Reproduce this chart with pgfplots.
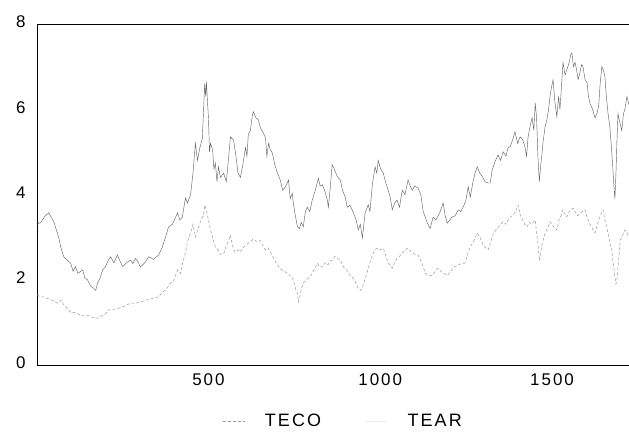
\documentclass[border=0pt]{standalone}
\usepackage{pgfplots}
\pgfplotsset{compat=1.18}
\usepackage{fontspec}
\setmainfont{Liberation Sans}[LetterSpace=12]
\pgfplotstableread{
x y
1 3.3
12 3.35
25 3.5
35 3.57
50 3.36
64 3.0
70 2.77
79 2.54
90 2.45
99 2.39
106 2.2
113 2.31
120 2.15
134 2.23
140 2.05
148 2.0
157 1.85
166 1.8
172 1.75
177 1.92
185 2.05
192 2.23
200 2.3
208 2.45
215 2.54
225 2.4
235 2.58
242 2.45
250 2.31
262 2.4
273 2.46
280 2.38
288 2.5
295 2.42
302 2.3
315 2.4
326 2.54
340 2.48
355 2.58
365 2.75
375 3.0
384 3.24
395 3.3
410 3.57
417 3.4
424 3.47
433 3.92
439 3.8
448 4.0
455 4.5
462 5.2
468 4.8
475 5.1
482 5.3
486 6.0
489 6.6
492 6.3
494 6.65
497 6.2
500 5.8
503 5.0
506 5.2
512 5.05
516 4.6
520 4.74
525 4.3
529 4.65
535 4.4
544 4.5
552 4.3
558 4.8
564 5.35
573 5.28
580 4.9
586 4.5
593 4.4
599 4.65
608 5.1
612 4.9
616 5.4
622 5.5
628 5.87
631 5.94
638 5.8
645 5.75
652 5.55
660 5.44
666 5.33
670 4.9
675 5.2
680 5.05
686 4.97
693 4.7
701 4.5
709 4.34
716 4.1
724 4.18
733 4.34
738 3.9
744 4.03
747 3.8
753 3.5
759 3.24
765 3.2
770 3.35
776 3.24
782 3.6
788 3.7
795 3.6
802 3.87
811 4.1
820 4.38
825 4.2
831 4.23
838 4.1
846 3.87
849 3.7
855 4.2
860 4.7
866 4.6
875 4.42
884 4.34
890 4.1
898 3.94
904 3.7
912 3.75
922 3.57
930 3.4
936 3.17
942 3.3
948 2.98
956 3.57
965 3.76
970 3.6
977 4.23
985 4.65
990 4.5
994 4.8
1001 4.6
1009 4.5
1015 4.3
1020 4.18
1029 3.94
1035 3.64
1042 3.8
1049 3.87
1056 3.7
1064 4.1
1072 4.0
1081 4.34
1087 4.2
1093 4.1
1100 4.2
1110 4.15
1118 4.0
1125 3.6
1131 3.47
1137 3.33
1145 3.2
1154 3.47
1162 3.4
1174 3.59
1183 3.8
1189 3.5
1195 3.33
1202 3.4
1209 3.47
1218 3.5
1227 3.64
1234 3.6
1241 3.7
1249 3.85
1256 4.18
1262 3.94
1270 4.3
1276 4.5
1282 4.65
1290 4.5
1297 4.42
1305 4.3
1314 4.27
1320 4.27
1326 4.58
1334 4.77
1343 4.93
1350 4.8
1358 5.0
1366 4.9
1372 5.1
1378 5.12
1386 5.3
1392 5.47
1400 5.2
1407 5.35
1414 5.3
1421 5.12
1426 4.9
1430 5.33
1436 5.6
1442 5.8
1447 5.5
1451 6.15
1455 5.8
1459 4.88
1463 4.3
1466 4.6
1470 4.9
1474 5.24
1480 5.6
1485 5.75
1490 6.0
1494 6.3
1498 6.5
1503 6.69
1508 6.2
1514 5.82
1519 6.3
1523 5.99
1528 6.6
1532 7.1
1538 6.8
1543 6.92
1550 7.1
1555 7.3
1558 7.32
1562 7.0
1567 7.1
1572 6.9
1576 6.7
1581 6.85
1586 7.05
1590 7.0
1596 6.7
1602 6.62
1606 6.3
1610 6.15
1618 6.0
1625 5.8
1631 5.9
1636 6.1
1640 6.6
1645 7.0
1650 6.9
1654 6.76
1658 6.3
1663 5.9
1668 5.6
1672 5.2
1676 4.74
1680 4.2
1683 3.9
1686 4.5
1689 5.28
1692 5.9
1697 5.7
1703 5.5
1708 5.9
1712 6.0
1718 6.3
1724 6.1
}\tear
\pgfplotstableread{
x y
1 1.65
10 1.6
20 1.6
35 1.55
50 1.5
60 1.45
70 1.52
80 1.4
93 1.29
100 1.22
108 1.24
120 1.2
135 1.15
148 1.17
160 1.12
170 1.1
180 1.1
190 1.15
200 1.2
209 1.29
220 1.3
238 1.33
255 1.38
273 1.45
290 1.45
310 1.5
330 1.55
355 1.6
365 1.7
375 1.76
390 1.92
400 2.0
410 2.23
419 2.15
425 2.4
432 2.6
439 2.9
448 3.1
455 3.3
462 3.0
470 3.2
478 3.4
485 3.5
490 3.75
495 3.6
500 3.4
506 3.17
512 3.0
520 2.77
528 2.7
535 2.6
544 2.6
552 2.8
558 2.9
564 3.05
570 2.8
577 2.65
585 2.7
593 2.65
600 2.75
608 2.8
615 2.85
622 2.9
630 2.95
640 2.9
650 2.93
658 2.8
666 2.7
673 2.75
680 2.65
690 2.5
701 2.35
710 2.25
720 2.2
730 2.15
737 2.1
744 2.07
750 1.9
755 1.75
759 1.69
762 1.48
766 1.6
771 1.8
776 1.92
785 2.0
796 2.07
805 2.2
817 2.39
823 2.3
831 2.3
840 2.4
848 2.35
855 2.45
860 2.46
868 2.55
875 2.5
884 2.46
893 2.3
905 2.2
913 2.1
922 2.04
930 1.9
936 1.8
942 1.75
948 1.8
955 2.0
962 2.18
970 2.4
978 2.6
985 2.7
991 2.74
1000 2.7
1009 2.74
1015 2.6
1022 2.4
1029 2.35
1035 2.27
1042 2.4
1049 2.5
1056 2.55
1064 2.62
1072 2.7
1081 2.74
1090 2.65
1100 2.6
1110 2.58
1118 2.45
1125 2.3
1131 2.15
1140 2.1
1151 2.1
1160 2.2
1168 2.27
1176 2.2
1185 2.15
1195 2.1
1205 2.2
1215 2.3
1227 2.35
1237 2.38
1247 2.39
1256 2.65
1264 2.8
1272 2.9
1282 3.1
1290 3.0
1298 2.85
1306 2.75
1314 2.7
1322 2.9
1330 3.1
1340 3.2
1350 3.3
1358 3.36
1366 3.3
1375 3.45
1387 3.52
1394 3.6
1401 3.76
1408 3.5
1415 3.4
1421 3.3
1427 3.24
1434 3.35
1440 3.3
1451 3.4
1455 3.1
1459 2.86
1463 2.45
1466 2.54
1470 2.8
1474 2.93
1480 3.1
1487 3.2
1494 3.36
1500 3.3
1508 3.2
1514 3.17
1520 3.4
1526 3.5
1532 3.64
1537 3.55
1543 3.47
1550 3.6
1556 3.65
1561 3.68
1567 3.6
1574 3.5
1580 3.55
1588 3.6
1596 3.64
1602 3.47
1610 3.3
1618 3.2
1625 3.1
1632 3.3
1640 3.5
1648 3.64
1654 3.4
1660 3.2
1665 3.0
1670 2.8
1674 2.7
1678 2.39
1683 2.07
1686 1.9
1689 2.0
1692 2.3
1695 2.54
1698 2.93
1704 3.0
1712 3.17
1718 3.1
1724 3.0
}\teco
\begin{document}
\begin{tikzpicture}
\useasboundingbox (-37bp,-72bp) rectangle (592bp,365bp);
\begin{axis}[
  at={(0,0)}, anchor=south west,
  scale only axis, width=592bp, height=341bp,
  xmin=1, xmax=1724, ymin=0, ymax=8,
  xtick={500,1000,1500}, ytick={0,2,4,6,8},
  major tick length=0pt,
  axis line style={black, line width=1pt},
  /pgf/number format/assume math mode=true,
  /pgf/number format/1000 sep={},
  tick label style={font=\fontsize{17}{20}\selectfont},
  yticklabel style={xshift=-8bp, yshift=2bp},
  xticklabel style={yshift=-5bp},
  legend style={at={(0.517,-0.165)}, anchor=center, draw=none, fill=none,
    font=\fontsize{18}{21}\selectfont, legend columns=2,
    /tikz/every odd column/.append style={column sep=18bp},
    /tikz/every even column/.append style={column sep=42bp}},
  legend image code/.code={\draw[#1] (0bp,0bp) -- (22bp,0bp);},
]
\addplot[black!40, line width=0.5pt, densely dashed] table {\teco};
\addlegendentry{TECO}
\addplot[black!60, line width=0.45pt, forget plot] table {\tear};
\addlegendimage{black!8, line width=0.45pt}
\addlegendentry{TEAR}
\end{axis}
\end{tikzpicture}
\end{document}
